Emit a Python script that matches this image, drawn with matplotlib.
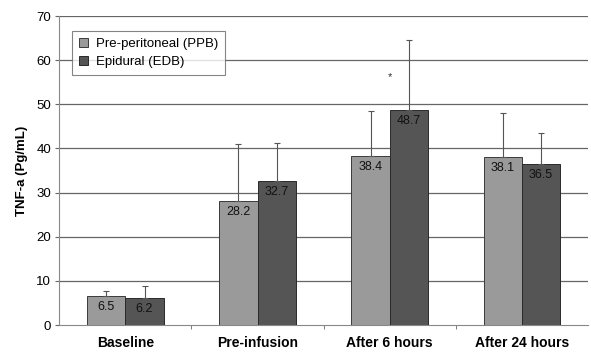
import matplotlib
matplotlib.use("Agg")
import matplotlib.pyplot as plt
import numpy as np

plt.rcParams['font.family'] = ['Liberation Sans', 'DejaVu Sans']

categories = ["Baseline", "Pre-infusion", "After 6 hours", "After 24 hours"]
ppb = [6.5, 28.2, 38.4, 38.1]
edb = [6.2, 32.7, 48.7, 36.5]
ppb_err = [1.2, 12.8, 10.0, 9.9]
edb_err = [2.7, 8.5, 15.8, 7.0]
series_names = ["Pre-peritoneal (PPB)", "Epidural (EDB)"]
yticks = [0, 10, 20, 30, 40, 50, 60, 70]

fig = plt.figure(figsize=(5.91, 3.52), dpi=100)
ax = fig.add_axes([0.1003, 0.0767, 0.8947, 0.8778])

x = np.arange(len(categories))
w = 0.29
c1, c2 = "#9a9a9a", "#555555"
for v in yticks[1:]:
    ax.axhline(v, color="#666666", lw=0.9, zorder=0)

b1 = ax.bar(x - w/2, ppb, w, color=c1, edgecolor="#3a3a3a", lw=0.7, label=series_names[0], zorder=2)
b2 = ax.bar(x + w/2, edb, w, color=c2, edgecolor="#2a2a2a", lw=0.7, label=series_names[1], zorder=2)
ax.errorbar(x - w/2, ppb, yerr=[np.zeros(4), ppb_err], fmt="none", ecolor="#555555", elinewidth=0.8, capsize=2.5, capthick=0.8, zorder=3)
ax.errorbar(x + w/2, edb, yerr=[np.zeros(4), edb_err], fmt="none", ecolor="#555555", elinewidth=0.8, capsize=2.5, capthick=0.8, zorder=3)

for xi, v in zip(x - w/2, ppb):
    ax.text(xi, v - 2.5, f"{v}", ha="center", va="center", fontsize=9, color="#111111", zorder=4)
for xi, v in zip(x + w/2, edb):
    ax.text(xi, v - 2.5, f"{v}", ha="center", va="center", fontsize=9, color="#111111", zorder=4)

ax.text(x[2], 56.2, "*", ha="center", va="center", fontsize=8, color="#333333")

ax.set_xlim(-0.5, 3.5)
ax.set_ylim(0, 70)
ax.set_yticks(yticks)
ax.set_yticklabels([str(t) for t in yticks], fontsize=9.5)
ax.set_xticks(x)
ax.set_xticklabels(categories, fontsize=10, fontweight="bold")
ax.set_xticks([0.5, 1.5, 2.5], minor=True)
ax.tick_params(axis="x", which="major", length=0, pad=8)
ax.tick_params(axis="x", which="minor", length=3, color="#666666", direction="out")
ax.tick_params(axis="y", length=3, color="#666666", direction="out", pad=3)
ax.set_ylabel("TNF-a (Pg/mL)", fontsize=9.5, fontweight="bold", labelpad=6)

for s in ["top", "right"]:
    ax.spines[s].set_visible(False)
ax.spines["left"].set_color("#888888")
ax.spines["bottom"].set_color("#888888")

leg = ax.legend(loc="upper left", bbox_to_anchor=(0.024, 0.951), borderaxespad=0, fontsize=9.5, frameon=True,
                fancybox=False, edgecolor="#666666", handlelength=0.7, handleheight=0.7,
                handletextpad=0.6, borderpad=0.5, labelspacing=0.45)
leg.get_frame().set_linewidth(0.8)
leg.set_zorder(5)

fig.savefig("out.png", dpi=100)
